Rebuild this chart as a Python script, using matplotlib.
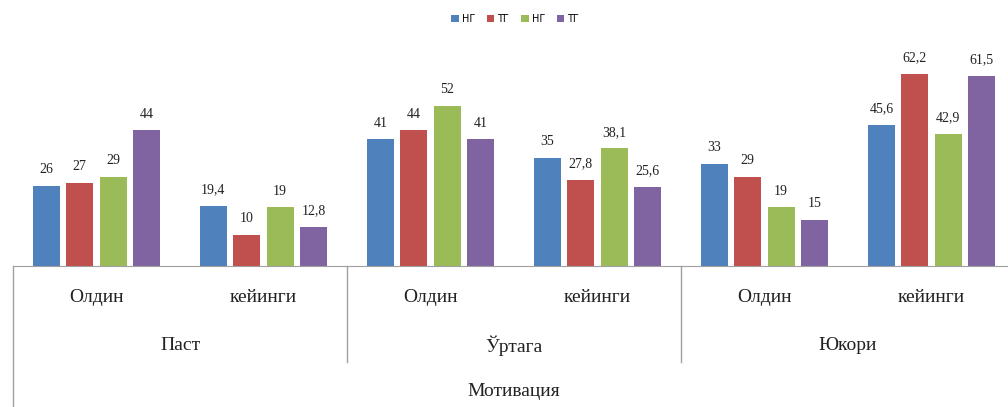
import matplotlib
matplotlib.use("Agg")
import matplotlib.pyplot as plt
import numpy as np
from matplotlib.transforms import blended_transform_factory

series_names = ["НГ", "ТГ", "НГ", "ТГ"]
sub_labels = ["Олдин", "кейинги", "Олдин", "кейинги", "Олдин", "кейинги"]
top_labels = ["Паст", "Ўртага", "Юкори"]
axis_title = "Мотивация"
values = [
    [26, 19.4, 41, 35, 33, 45.6],
    [27, 10, 44, 27.8, 29, 62.2],
    [29, 19, 52, 38.1, 19, 42.9],
    [44, 12.8, 41, 25.6, 15, 61.5],
]
colors = ["#4F81BD", "#C0504D", "#9BBB59", "#8064A2"]

W, H = 1008, 407
fig = plt.figure(figsize=(W / 100, H / 100), dpi=100)
ax = fig.add_axes([13 / W, (H - 266) / H, 1002 / W, (266 - 50) / H])

x = np.arange(len(sub_labels))
slot = 0.2
bw = 0.163
for j, vals in enumerate(values):
    pos = x + (j - 1.5) * slot
    bars = ax.bar(pos, vals, width=bw, color=colors[j], label=series_names[j], zorder=2)
    for b, v in zip(bars, vals):
        txt = f"{v:g}".replace(".", ",")
        ax.annotate(txt, (b.get_x() + b.get_width() / 2, v), xytext=(0, 7),
                    textcoords="offset points", ha="center", va="bottom",
                    fontsize=10, family="Liberation Serif", color="#222222")

ax.set_xlim(-0.5, len(sub_labels) - 0.5)
ax.set_ylim(0, 70)
for s in ["top", "right", "left"]:
    ax.spines[s].set_visible(False)
ax.spines["bottom"].set_color("#a0a0a0")
ax.set_xticks([])
ax.set_yticks([])

tr = blended_transform_factory(ax.transData, fig.transFigure)
y0 = (H - 266) / H
ymid = (H - 362) / H
ax.plot([-0.5, -0.5], [y0, 0.0], transform=tr, color="#a0a0a0", lw=1, clip_on=False)
for sx in [1.5, 3.5]:
    ax.plot([sx, sx], [y0, ymid], transform=tr, color="#a0a0a0", lw=1, clip_on=False)

for i, lab in enumerate(sub_labels):
    ax.text(i, (H - 297) / H, lab, transform=tr, ha="center", va="center",
            fontsize=14, family="Liberation Serif", color="#222222")
for k, lab in enumerate(top_labels):
    ax.text(2 * k + 0.5, (H - 346) / H, lab, transform=tr, ha="center", va="center",
            fontsize=14, family="Liberation Serif", color="#222222")
ax.text(2.5, (H - 392) / H, axis_title, transform=tr, ha="center", va="center",
        fontsize=14, family="Liberation Serif", color="#222222")

leg = fig.legend(loc="center", bbox_to_anchor=(515 / W, (H - 19) / H), ncol=4,
                 frameon=False, fontsize=7, handlelength=0.8, handleheight=0.8,
                 handletextpad=0.3, columnspacing=1.2)

fig.savefig("out.png", dpi=100)
